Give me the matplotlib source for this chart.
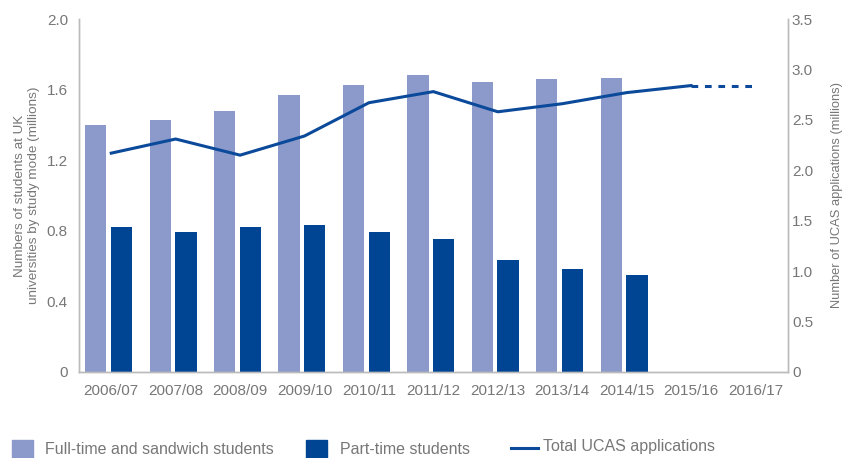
import matplotlib
matplotlib.use("Agg")
import matplotlib.pyplot as plt
from matplotlib.patches import Rectangle
from matplotlib.lines import Line2D
import numpy as np

plt.rcParams['font.family'] = ['Liberation Sans', 'DejaVu Sans']

years = ["2006/07", "2007/08", "2008/09", "2009/10", "2010/11", "2011/12",
         "2012/13", "2013/14", "2014/15", "2015/16", "2016/17"]
full_time = [1.40, 1.43, 1.48, 1.57, 1.625, 1.68, 1.645, 1.66, 1.665]
part_time = [0.822, 0.795, 0.822, 0.833, 0.795, 0.754, 0.635, 0.585, 0.552]
ucas = [2.17, 2.31, 2.15, 2.34, 2.67, 2.78, 2.58, 2.66, 2.77, 2.84]
ucas_proj = [2.84, 2.84]
legend_labels = ["Full-time and sandwich students", "Part-time students",
                 "Total UCAS applications"]

c_light = "#8c9acb"
c_dark = "#004494"
c_line = "#0b4a9a"
c_text = "#777777"
c_spine = "#bbbbbb"

W, H = 847, 458
fig = plt.figure(figsize=(W / 100, H / 100), dpi=100)
ax = fig.add_axes([0.0933, 0.1878, 0.8367, 0.7707])
ax2 = ax.twinx()

x = np.arange(len(years))
w = 0.33
ax.bar(x[:len(full_time)] - 0.24, full_time, width=w, color=c_light, zorder=2)
ax.bar(x[:len(part_time)] + 0.16, part_time, width=w, color=c_dark, zorder=2)

ax2.plot(x[:len(ucas)], ucas, color=c_line, lw=2.2, solid_joinstyle='miter')
ax2.plot(x[len(ucas)-1:len(ucas)-1+len(ucas_proj)], ucas_proj, color=c_line, lw=2.2,
         dashes=(2.2, 2.2))

ax.set_xlim(-0.5, len(years) - 0.5)
ax.set_ylim(0, 2.0)
ax2.set_ylim(0, 3.5)
ax.set_xticks(x)
ax.set_xticklabels(years)
ax.set_yticks([0, 0.4, 0.8, 1.2, 1.6, 2.0])
ax.set_yticklabels(["0", "0.4", "0.8", "1.2", "1.6", "2.0"])
ax2.set_yticks([0, 0.5, 1.0, 1.5, 2.0, 2.5, 3.0, 3.5])
ax2.set_yticklabels(["0", "0.5", "1.0", "1.5", "2.0", "2.5", "3.0", "3.5"])

for a in (ax, ax2):
    a.tick_params(length=0, labelsize=11, colors=c_text)
    a.spines['top'].set_visible(False)
    for s in ('left', 'right', 'bottom'):
        a.spines[s].set_color(c_spine)
        a.spines[s].set_linewidth(1.0)
ax.tick_params(axis='x', pad=9)
ax.tick_params(axis='y', pad=8)
ax2.tick_params(axis='y', pad=3)

ax.set_ylabel("Numbers of students at UK\nuniversities by study mode (millions)",
              fontsize=9.7, color=c_text, labelpad=5, linespacing=1.15)
ax2.set_ylabel("Number of UCAS applications (millions)", fontsize=9.3, color=c_text,
               labelpad=13)

# legend drawn in figure pixel coordinates
def fx(px):
    return px / W

def fy(py):
    return 1 - py / H

fig.add_artist(Rectangle((fx(12), fy(458)), 21 / W, 18 / H, transform=fig.transFigure,
                         color=c_light))
fig.text(fx(45), fy(449), legend_labels[0], fontsize=11.5, color=c_text, va='center')
fig.add_artist(Rectangle((fx(306), fy(458)), 21 / W, 18 / H, transform=fig.transFigure,
                         color=c_dark))
fig.text(fx(340), fy(449), legend_labels[1], fontsize=11.5, color=c_text, va='center')
fig.add_artist(Line2D([fx(511), fx(538)], [fy(448), fy(448)], transform=fig.transFigure,
                      color=c_line, lw=2.2))
fig.text(fx(543), fy(447), legend_labels[2], fontsize=11.5, color=c_text, va='center')

fig.savefig("out.png", dpi=100)
